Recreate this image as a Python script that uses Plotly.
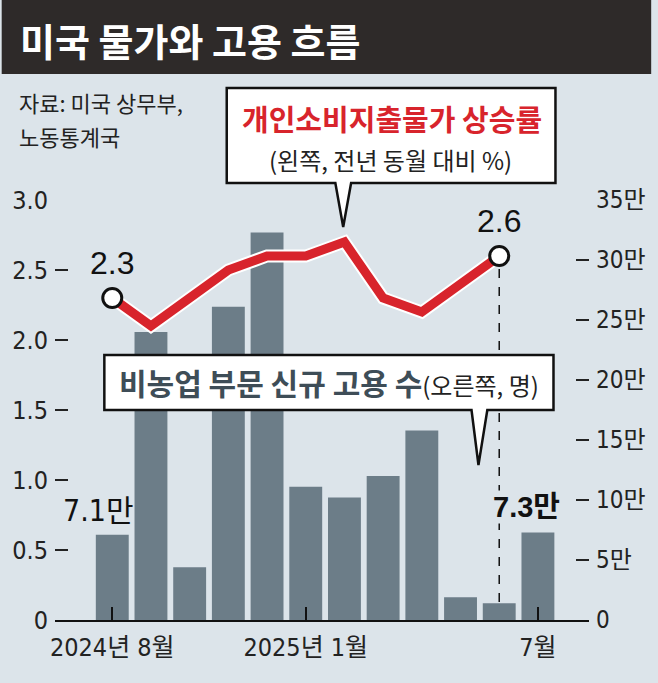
import plotly.graph_objects as go

# 2024.8 ~ 2025.7
months = ["2024-08", "2024-09", "2024-10", "2024-11", "2024-12", "2025-01",
          "2025-02", "2025-03", "2025-04", "2025-05", "2025-06", "2025-07"]
jobs = [7.1, 24.0, 4.4, 26.1, 32.3, 11.1, 10.2, 12.0, 15.8, 1.9, 1.4, 7.3]   # 만 명
pce = [2.3, 2.1, 2.3, 2.5, 2.6, 2.6, 2.7, 2.3, 2.2, 2.4, 2.6]               # %
tick_idx = [0, 5, 11]
tick_text = ["2024년 8월", "2025년 1월", "7월"]
left_ticks = [0, 0.5, 1.0, 1.5, 2.0, 2.5, 3.0]
left_text = ["0", "0.5", "1.0", "1.5", "2.0", "2.5", "3.0"]
right_ticks = [0, 5, 10, 15, 20, 25, 30, 35]
right_text = ["0", "5만", "10만", "15만", "20만", "25만", "30만", "35만"]

BG = "#dce4ea"
BAR = "#6c7d88"
RED = "#d8242c"
KR = "Noto Sans CJK KR"
NARROW = "DejaVu Sans Condensed, Liberation Sans Narrow, " + KR

W, H = 658, 683
L, R, T, B = 54, 595, 200, 620


def px(x):
    return (x - L) / (R - L)


def py(y):
    return (B - y) / (B - T)


def path(points):
    return "M " + " L ".join(f"{px(a):.4f},{py(b):.4f}" for a, b in points) + " Z"


xs = list(range(len(months)))

fig = go.Figure()
fig.add_trace(go.Bar(x=xs, y=jobs, marker_color=BAR, marker_line_width=0,
                     yaxis="y", hoverinfo="skip"))
fig.add_trace(go.Scatter(x=xs[:len(pce)], y=pce, yaxis="y2", mode="lines",
                         line=dict(color="white", width=13), hoverinfo="skip"))
fig.add_trace(go.Scatter(x=xs[:len(pce)], y=pce, yaxis="y2", mode="lines",
                         line=dict(color=RED, width=9), hoverinfo="skip"))
last = len(pce) - 1
fig.add_trace(go.Scatter(x=[0, last], y=[pce[0], pce[last]], yaxis="y2",
                         mode="markers", cliponaxis=False,
                         marker=dict(size=19, color="white",
                                     line=dict(color="#111", width=3)),
                         hoverinfo="skip"))

shapes = [
    # title bar
    dict(type="rect", xref="paper", yref="paper", x0=px(0), x1=px(W),
         y0=py(74), y1=py(0), fillcolor="#2e2a29", line_width=0, layer="below"),
    # dashed guide from last marker
    dict(type="line", xref="x", yref="y2", x0=last, x1=last, y0=0, y1=pce[last],
         line=dict(color="#111", width=1.5, dash="dash"), layer="below"),
    # callout 1
    dict(type="path", xref="paper", yref="paper",
         path=path([(228, 88), (561, 88), (561, 183), (354, 183), (346, 227),
                    (338, 183), (228, 183)]),
         fillcolor="white", line=dict(color="#111", width=2.5)),
    # callout 2
    dict(type="path", xref="paper", yref="paper",
         path=path([(104, 355), (559, 355), (559, 410), (492, 410), (483, 465),
                    (476, 410), (104, 410)]),
         fillcolor="white", line=dict(color="#111", width=2.5)),
]

ann = [
    dict(text="<b>미국 물가와 고용 흐름</b>", x=px(17), y=py(39), xanchor="left",
         font=dict(family=KR, size=38, color="white")),
    dict(text="자료: 미국 상무부,", x=px(15), y=py(102), xanchor="left",
         font=dict(family=KR, size=22, color="#222")),
    dict(text="노동통계국", x=px(15), y=py(136), xanchor="left",
         font=dict(family=KR, size=22, color="#222")),
    dict(text="<b>개인소비지출물가 상승률</b>", x=px(395), y=py(118),
         font=dict(family=KR, size=29, color=RED)),
    dict(text="(왼쪽, 전년 동월 대비 %)", x=px(394), y=py(160),
         font=dict(family=KR, size=24, color="#222")),
    dict(text="<b><span style='color:#3e4d57'>비농업 부문 신규 고용 수</span></b>"
              "<span style='font-size:24px'>(오른쪽, 명)</span>",
         x=px(332), y=py(382), font=dict(family=KR, size=30, color="#222")),
]
for a in ann:
    a.update(xref="paper", yref="paper", showarrow=False,
             yanchor=a.get("yanchor", "middle"), xanchor=a.get("xanchor", "center"))

# value labels
ann += [
    dict(text=f"{pce[0]}", x=0, y=pce[0], xref="x", yref="y2", yshift=35,
         showarrow=False, font=dict(family="Liberation Sans", size=32, color="#111")),
    dict(text=f"{pce[last]}", x=last, y=pce[last], xref="x", yref="y2", yshift=35,
         showarrow=False, font=dict(family="Liberation Sans", size=32, color="#111")),
    dict(text=f"{jobs[0]}만", x=0, y=jobs[0], xref="x", yref="y", yshift=24,
         xshift=-14, showarrow=False,
         font=dict(family=NARROW, size=30, color="#111")),
    dict(text=f"<b>{jobs[-1]}만</b>", x=len(jobs) - 1, y=jobs[-1], xref="x", yref="y",
         yshift=25, xshift=-11, showarrow=False, bgcolor=BG, borderpad=0,
         font=dict(family="Liberation Sans, " + KR, size=29, color="#111")),
]

fig.update_layout(
    width=W, height=H, margin=dict(l=L, r=W - R, t=T, b=H - B),
    paper_bgcolor=BG, plot_bgcolor=BG, showlegend=False, bargap=0.15,
    shapes=shapes, annotations=ann,
    xaxis=dict(range=[-1.48, 12.32], tickmode="array", tickvals=tick_idx,
               ticktext=tick_text, ticks="inside", ticklen=13, tickwidth=1.5,
               tickcolor="#111", showline=True, linecolor="#111", linewidth=2,
               showgrid=False, zeroline=False, ticklabelstandoff=4,
               tickfont=dict(family=NARROW, size=25, color="#222")),
    yaxis=dict(range=[0, 35], side="right", tickmode="array", tickvals=right_ticks,
               ticktext=right_text, ticks="inside", ticklen=13, tickwidth=1.5,
               tickcolor="#222", showgrid=False, zeroline=False, showline=False,
               ticklabelstandoff=6,
               tickfont=dict(family=NARROW, size=24, color="#222")),
    yaxis2=dict(range=[0, 3.0], side="left", overlaying="y", tickmode="array",
                tickvals=left_ticks, ticktext=left_text, ticks="inside", ticklen=13,
                tickwidth=1.5, tickcolor="#222", showgrid=False, zeroline=False,
                showline=False, ticklabelstandoff=6,
                tickfont=dict(family=NARROW, size=25, color="#222")),
)

fig.write_html("out.html", config={"displayModeBar": False},
               post_script="document.body.style.margin='0';"
                           "document.body.style.overflow='hidden';")
